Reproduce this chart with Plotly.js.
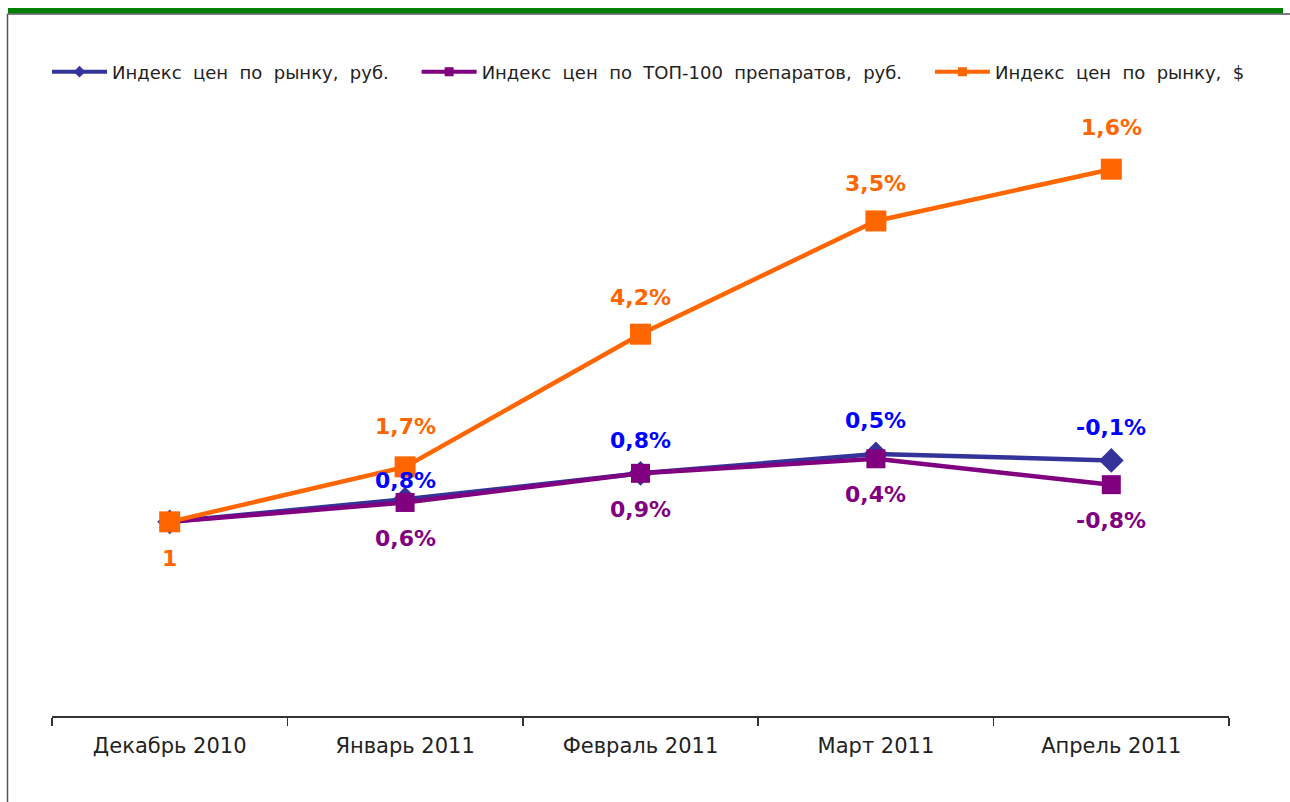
<!DOCTYPE html>
<html>
<head>
<meta charset="utf-8">
<script src="https://cdn.plot.ly/plotly-3.0.1.min.js"></script>
<style>
  html, body { margin: 0; padding: 0; background: #ffffff; }
  #chart { width: 1290px; height: 802px; }
</style>
</head>
<body>
<div id="chart"></div>
<script>
// ---- data ----
const categories = ['Декабрь 2010', 'Январь 2011', 'Февраль 2011', 'Март 2011', 'Апрель 2011'];

const seriesNames = [
  'Индекс  цен  по  рынку,  руб.',
  'Индекс  цен  по  ТОП-100  препаратов,  руб.',
  'Индекс  цен  по  рынку,  $'
];

const marketRub = [1, 1.007, 1.015, 1.021, 1.019];
const top100Rub = [1, 1.006, 1.015, 1.0195, 1.0115];
const marketUsd = [1, 1.017, 1.058, 1.093, 1.109];

const marketRubLabels = ['', '0,8%', '0,8%', '0,5%', '-0,1%'];
const top100RubLabels = ['', '0,6%', '0,9%', '0,4%', '-0,8%'];
const marketUsdLabels = ['1', '1,7%', '4,2%', '3,5%', '1,6%'];

// ---- styles ----
const cBlue = '#333399', cPurple = '#800080', cOrange = '#FF6600';
const lblBlue = '#0000FF';
const W = 1290, H = 802;
const L = 52, R = 61, T = 76, B = 86;
const pw = W - L - R, ph = H - T - B;
const px = X => (X - L) / pw;
const py = Y => (H - B - Y) / ph;
const pad = '\u00A0\u00A0\u00A0\u00A0';

const traces = [
  { x: categories, y: marketRub, mode: 'lines+markers', showlegend: false,
    line: { color: cBlue, width: 4.5 }, marker: { symbol: 'diamond', size: 19, color: cBlue } },
  { x: categories, y: top100Rub, mode: 'lines+markers', showlegend: false,
    line: { color: cPurple, width: 4.5 }, marker: { symbol: 'square', size: 19, color: cPurple } },
  { x: categories, y: marketUsd, mode: 'lines+markers', showlegend: false,
    line: { color: cOrange, width: 4.5 }, marker: { symbol: 'square', size: 21, color: cOrange } },
  // legend entries
  { x: [null], y: [null], name: seriesNames[0] + pad, mode: 'lines+markers',
    line: { color: cBlue, width: 4 }, marker: { symbol: 'diamond', size: 9, color: cBlue } },
  { x: [null], y: [null], name: seriesNames[1] + pad, mode: 'lines+markers',
    line: { color: cPurple, width: 4 }, marker: { symbol: 'square', size: 9, color: cPurple } },
  { x: [null], y: [null], name: seriesNames[2], mode: 'lines+markers',
    line: { color: cOrange, width: 4 }, marker: { symbol: 'square', size: 9, color: cOrange } }
];

const annFont = (c) => ({ family: 'DejaVu Sans', size: 22, color: c, weight: 'bold' });
const annotations = [];
function addLabels(vals, labels, color, shiftFn) {
  labels.forEach((t, i) => {
    if (!t) return;
    annotations.push({ x: categories[i], y: vals[i], text: '<b>' + t + '</b>', showarrow: false,
      font: annFont(color), yshift: shiftFn(i), xanchor: 'center', yanchor: 'middle' });
  });
}
addLabels(marketUsd, marketUsdLabels, cOrange, i => i === 0 ? -37 : (i === 4 ? 42 : (i === 1 ? 40 : 37)));
addLabels(marketRub, marketRubLabels, lblBlue, i => i === 1 ? 19 : 33);
addLabels(top100Rub, top100RubLabels, cPurple, i => -36);

const shapes = [
  { type: 'rect', xref: 'paper', yref: 'paper', x0: px(8), x1: px(1283), y0: py(13.5), y1: py(8),
    fillcolor: '#008000', line: { width: 0 } },
  { type: 'line', xref: 'paper', yref: 'paper', x0: px(7.5), x1: px(1290), y0: py(14), y1: py(14),
    line: { color: '#555555', width: 1.5 } },
  { type: 'line', xref: 'paper', yref: 'paper', x0: px(7.5), x1: px(7.5), y0: py(14), y1: py(802),
    line: { color: '#555555', width: 1.5 } }
];

const layout = {
  width: W, height: H,
  margin: { l: L, r: R, t: T, b: B, pad: 0 },
  paper_bgcolor: '#ffffff', plot_bgcolor: '#ffffff',
  font: { family: 'DejaVu Sans', color: '#222222' },
  showlegend: true,
  legend: { orientation: 'h', x: px(47), xanchor: 'left', y: py(72), yanchor: 'middle',
    itemwidth: 55,
    font: { family: 'DejaVu Sans', size: 18, color: '#222222' }, bgcolor: 'rgba(0,0,0,0)' },
  xaxis: {
    type: 'category', range: [-0.5, 4.5], showgrid: false, zeroline: false,
    showline: true, linecolor: '#333333', linewidth: 1.5,
    ticks: 'outside', tickson: 'boundaries', ticklen: 8, tickcolor: '#333333', tickwidth: 1.5,
    tickfont: { family: 'DejaVu Sans', size: 21, color: '#222222' }, ticklabelstandoff: 10
  },
  yaxis: { range: [0.94, 1.1378], visible: false, showgrid: false, zeroline: false },
  annotations: annotations,
  shapes: shapes
};

Plotly.newPlot('chart', traces, layout, { displayModeBar: false, staticPlot: true });
</script>
</body>
</html>
